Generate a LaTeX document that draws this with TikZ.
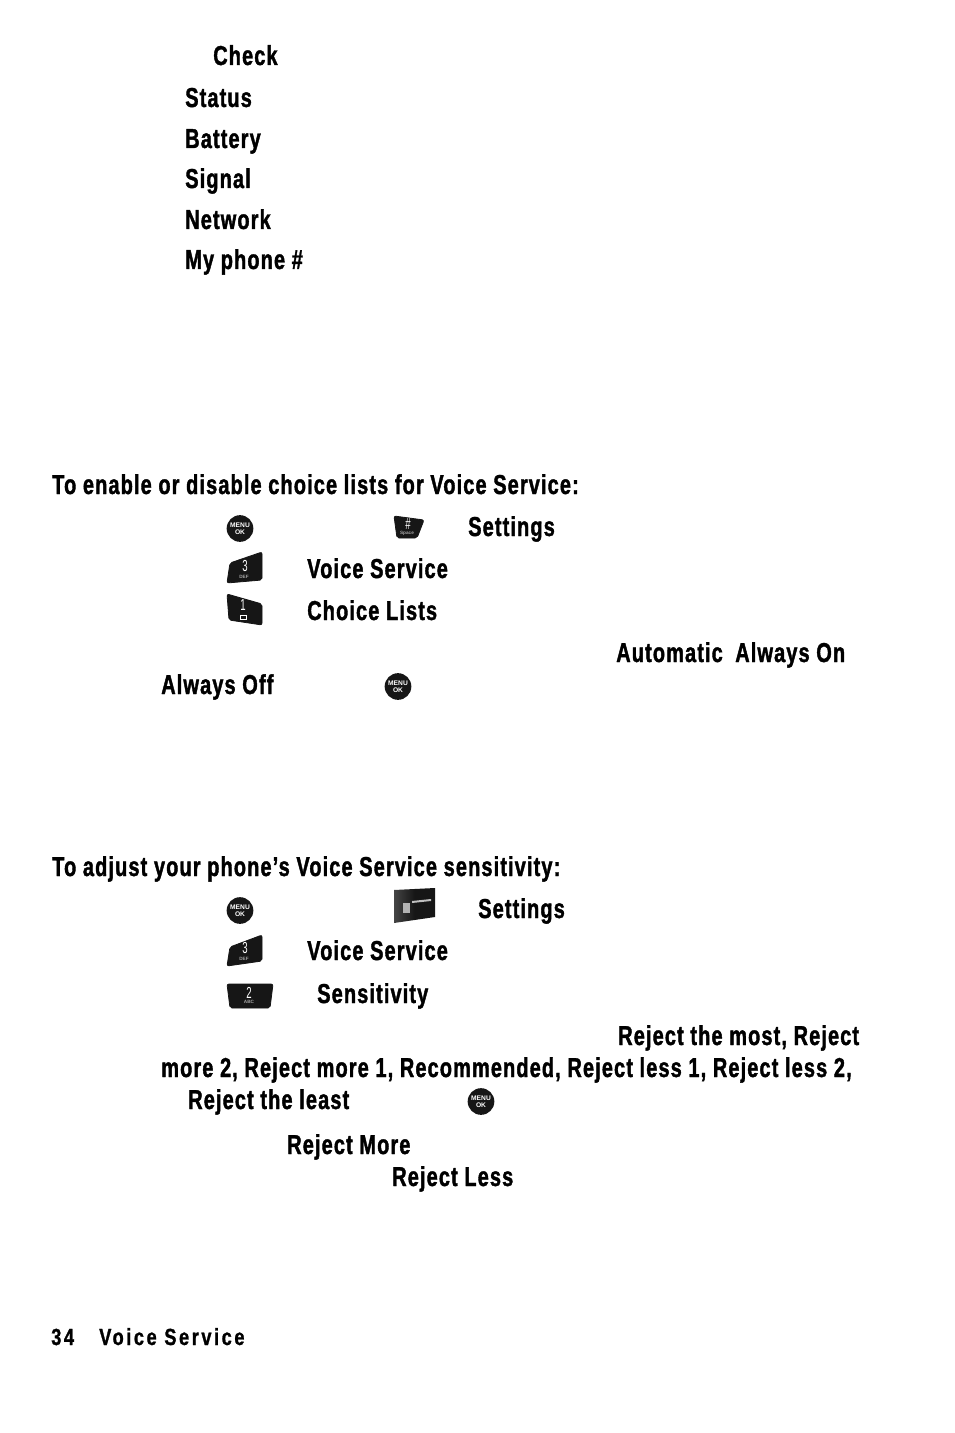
\documentclass[tikz,border=0pt]{standalone}
\usepackage{fontspec}
\setmainfont{Liberation Sans}
\newfontfamily\bodyfont[FakeStretch=0.73,FakeBold=1.4,LetterSpace=4.1]{Liberation Sans Bold}
\newfontfamily\footfont[FakeStretch=0.78,FakeBold=1.1,LetterSpace=11]{Liberation Sans Bold}
\newfontfamily\numfont[FakeStretch=0.6]{Liberation Sans}
\newfontfamily\keyfont{Liberation Sans Bold}
\usetikzlibrary{positioning}
\definecolor{keyblack}{RGB}{22,22,22}

\begin{document}
\begin{tikzpicture}[x=0.75pt,y=-0.75pt]
    \tikzset{entry/.style={anchor=base west,inner sep=0pt,font=\bodyfont\fontsize{20.5}{24}\selectfont}}
    \tikzset{footer/.style={anchor=base west,inner sep=0pt,font=\footfont\fontsize{17.5}{20}\selectfont}}
    \tikzset{menukey/.style={circle,fill=keyblack,minimum size=20pt,inner sep=0pt,text=white,align=center,font=\keyfont\fontsize{5}{5.6}\selectfont}}
    \tikzset{keynum/.style={inner sep=0pt,text=white,font=\numfont\fontsize{12}{12}\selectfont}}
    \tikzset{keysub/.style={inner sep=0pt,text=gray!70,font=\keyfont\fontsize{3.5}{4}\selectfont}}
    \tikzset{keycap/.style={fill=keyblack,draw=keyblack,line width=0.6pt,rounded corners=1.5pt}}

    \path[use as bounding box,fill=white] (0,0) rectangle (954,1433);

    % Status list
    \node[entry] (check) at (213,65) {Check};
    \node[entry] (status) at (185,107) {Status};
    \node[entry] (battery) at (185,148) {Battery};
    \node[entry] (signal) at (185,188) {Signal};
    \node[entry] (network) at (185,229) {Network};
    \node[entry] (myphone) at (185,269) {My phone \#};

    % Choice lists
    \node[entry] (choicehead) at (52,494) {To enable or disable choice lists for Voice Service:};
    \node[menukey] (menua) at (240,528.5) {MENU\\OK};
    \fill[keycap] (394,516) -- (424,520) -- (417,538) -- (397,538) -- cycle;
    \node[keynum] (hasha) at (408,524) {\#};
    \node[keysub] (spacea) at (407,533) {Space};
    \node[entry] (settingsa) at (468,536) {Settings};
    \fill[keycap] (227,583) -- (230,563) -- (262,552) -- (262,580) -- cycle;
    \node[keynum] (threea) at (245,566) {3};
    \node[keysub] (defa) at (244,576.5) {DEF};
    \node[entry] (voicea) at (307,578) {Voice Service};
    \fill[keycap] (227,594) -- (262,604) -- (262,625) -- (229,620) -- cycle;
    \node[keynum] (onea) at (243,605) {1};
    \draw[white,line width=0.4pt] (240.5,615) rectangle (246.5,619);
    \node[entry] (choicelists) at (307,620) {Choice Lists};
    \node[entry] (automatic) at (616,662) {Automatic};
    \node[entry] (alwayson) at (735,662) {Always On};
    \node[entry] (alwaysoff) at (161,694) {Always Off};
    \node[menukey] (menub) at (398,686.5) {MENU\\OK};

    % Sensitivity
    \node[entry] (sensehead) at (52,876) {To adjust your phone’s Voice Service sensitivity:};
    \node[menukey] (menuc) at (240,910.5) {MENU\\OK};
    \shade[left color=keyblack!80,right color=keyblack,middle color=keyblack] (394,890) -- (435,888) -- (435,917) -- (394,923) -- cycle;
    \fill[gray!60] (403,903) rectangle (410,913);
    \fill[gray!50] (412,901) -- (431,899) -- (431,901) -- (412,903) -- cycle;
    \node[entry] (settingsb) at (478,918) {Settings};
    \fill[keycap] (227,966) -- (230,947) -- (262,935) -- (262,961) -- cycle;
    \node[keynum] (threeb) at (245,948) {3};
    \node[keysub] (defb) at (244,959) {DEF};
    \node[entry] (voiceb) at (307,960) {Voice Service};
    \fill[keycap] (227,984) -- (273,984) -- (270,1008) -- (230,1008) -- cycle;
    \node[keynum] (twob) at (249,993) {2};
    \node[keysub] (abcb) at (249,1002) {ABC};
    \node[entry] (sensitivity) at (317,1003) {Sensitivity};
    \node[entry] (rejecta) at (618,1045) {Reject the most, Reject};
    \node[entry] (rejectb) at (161,1077) {more 2, Reject more 1, Recommended, Reject less 1, Reject less 2,};
    \node[entry] (rejectc) at (188,1109) {Reject the least};
    \node[menukey] (menud) at (481,1101.5) {MENU\\OK};
    \node[entry] (rejectmore) at (287,1154) {Reject More};
    \node[entry] (rejectless) at (392,1186) {Reject Less};

    % Footer
    \node[footer] (pagenum) at (51,1345) {34};
    \node[footer] (section) at (99,1345) {Voice Service};
\end{tikzpicture}
\end{document}
